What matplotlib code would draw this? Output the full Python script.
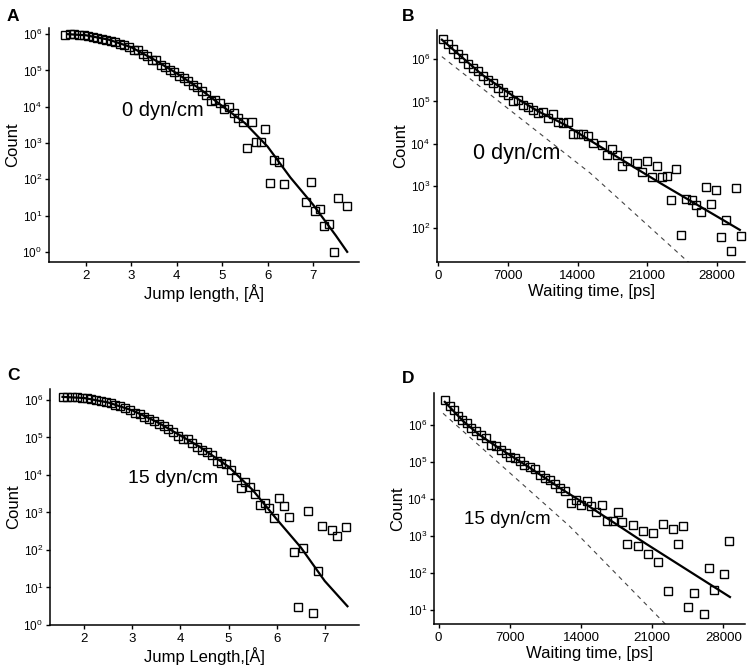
import matplotlib
matplotlib.use("Agg")
import matplotlib.pyplot as plt
import numpy as np
from matplotlib.ticker import NullLocator, FixedLocator

plt.rcParams['font.family'] = ['Liberation Sans', 'DejaVu Sans']
plt.rcParams['mathtext.fontset'] = 'custom'
plt.rcParams['mathtext.rm'] = 'Liberation Sans'

# ---- panel A: jump length, 0 dyn/cm  (counts stored as log10) ----
a_x = [1.55, 1.65, 1.75, 1.85, 1.95, 2.05, 2.15, 2.25, 2.35, 2.45, 2.55, 2.65, 2.75,
       2.85, 2.95, 3.05, 3.15, 3.25, 3.35, 3.45, 3.55, 3.65, 3.75, 3.85, 3.95, 4.05,
       4.15, 4.25, 4.35, 4.45, 4.55, 4.65, 4.75, 4.85, 4.95, 5.05, 5.15, 5.25, 5.35,
       5.45, 5.55, 5.65, 5.75, 5.85, 5.95, 6.05, 6.15, 6.25, 6.35, 6.85, 6.95, 7.05,
       7.15, 7.25, 7.35, 7.45, 7.55, 7.75]
a_log = [5.97, 6.00, 6.00, 5.99, 5.98, 5.95, 5.93, 5.90, 5.88, 5.85, 5.81, 5.78, 5.74,
         5.70, 5.64, 5.56, 5.55, 5.45, 5.40, 5.28, 5.28, 5.14, 5.10, 5.00, 4.95, 4.85,
         4.78, 4.72, 4.60, 4.55, 4.42, 4.32, 4.17, 4.18, 4.11, 3.93, 3.98, 3.82, 3.68,
         3.59, 2.85, 3.59, 3.04, 3.04, 3.38, 1.90, 2.53, 2.48, 1.86, 1.38, 1.93, 1.13,
         1.19, 0.70, 0.78, 0.00, 1.49, 1.26]
a_fit_x = [1.6, 2.0, 2.5, 3.0, 3.5, 4.0, 4.5, 5.0, 5.5, 6.0, 6.5, 7.0, 7.5, 7.75]
a_fit_log = [6.0, 5.97, 5.85, 5.64, 5.30, 4.92, 4.50, 4.02, 3.55, 2.90, 2.05, 1.30, 0.45, 0.0]

# ---- panel B: waiting time, 0 dyn/cm ----
b_x = [500, 1000, 1500, 2000, 2500, 3000, 3500, 4000, 4500, 5000, 5500, 6000, 6500,
       7000, 7500, 8000, 8500, 9000, 9500, 10000, 10500, 11000, 11500, 12000, 12500,
       13000, 13500, 14000, 14500, 15000, 15550, 16450, 17000, 17500, 18000, 18500,
       19000, 20000, 20500, 21000, 21450, 21950, 22450, 22950, 23450, 23950, 24450,
       24950, 25500, 25950, 26450, 26950, 27450, 27950, 28400, 28900, 29400, 29900, 30400]
b_log = [6.48, 6.35, 6.24, 6.12, 6.02, 5.88, 5.79, 5.71, 5.59, 5.51, 5.43, 5.31, 5.23,
         5.16, 5.01, 5.04, 4.92, 4.86, 4.80, 4.72, 4.75, 4.60, 4.70, 4.52, 4.48,
         4.52, 4.24, 4.24, 4.22, 4.17, 4.01, 3.97, 3.73, 3.87, 3.73, 3.47,
         3.58, 3.54, 3.32, 3.58, 3.22, 3.46, 3.22, 3.24, 2.67, 3.40, 1.84,
         2.69, 2.67, 2.55, 2.39, 2.97, 2.57, 2.91, 1.80, 2.20, 1.45, 2.95, 1.82]
b_fit_x = [340, 2000, 4400, 7700, 10000, 12800, 15300, 22300, 30330]
b_fit_log = [6.46, 6.12, 5.63, 5.10, 4.77, 4.44, 4.07, 3.07, 1.96]
b_dash_x = [340, 15290, 25600]
b_dash_log = [6.06, 3.30, 1.10]

# ---- panel C: jump length, 15 dyn/cm ----
c_x = [1.55, 1.65, 1.75, 1.85, 1.95, 2.05, 2.15, 2.25, 2.35, 2.45, 2.55, 2.65, 2.75,
       2.85, 2.95, 3.05, 3.15, 3.25, 3.35, 3.45, 3.55, 3.65, 3.75, 3.85, 3.95, 4.05,
       4.15, 4.25, 4.35, 4.45, 4.55, 4.65, 4.75, 4.85, 4.95, 5.05, 5.15, 5.25, 5.35,
       5.45, 5.55, 5.65, 5.75, 5.85, 5.95, 6.05, 6.15, 6.25, 6.35, 6.45, 6.55, 6.65,
       6.75, 6.85, 6.95, 7.15, 7.25, 7.45]
c_log = [6.08, 6.09, 6.09, 6.09, 6.06, 6.05, 6.03, 6.00, 5.97, 5.95, 5.91, 5.87, 5.83,
         5.78, 5.73, 5.66, 5.62, 5.55, 5.50, 5.44, 5.36, 5.30, 5.22, 5.15, 5.05, 4.97,
         4.96, 4.84, 4.75, 4.67, 4.60, 4.53, 4.36, 4.33, 4.29, 4.13, 3.94, 3.64, 3.82,
         3.69, 3.49, 3.20, 3.24, 3.11, 2.84, 3.38, 3.17, 2.87, 1.95, 0.49, 2.04, 3.04,
         0.31, 1.45, 2.64, 2.52, 2.38, 2.60]
c_fit_x = [1.55, 2.0, 2.5, 3.0, 3.5, 4.0, 4.4, 5.0, 5.5, 6.0, 6.5, 7.0, 7.47]
c_fit_log = [6.08, 6.05, 5.93, 5.72, 5.42, 5.05, 4.75, 4.22, 3.60, 2.82, 2.07, 1.17, 0.50]

# ---- panel D: waiting time, 15 dyn/cm ----
d_x = [590, 1080, 1480, 1900, 2330, 2790, 3220, 3710, 4200, 4630, 5190, 5610, 6100,
       6600, 6990, 7480, 7970, 8400, 8960, 9450, 9940, 10430, 10930, 11420, 11910,
       12400, 13060, 13550, 14040, 14540, 15030, 15520, 16080, 16510, 17100, 17590,
       18080, 18570, 19070, 19560, 20050, 20580, 21040, 21560, 22090, 22580, 23070,
       23560, 24050, 24550, 25070, 26060, 26550, 27040, 28060, 28580]
d_log = [6.68, 6.51, 6.39, 6.24, 6.12, 6.05, 5.91, 5.82, 5.73, 5.64, 5.46, 5.43, 5.32,
         5.23, 5.14, 5.10, 5.01, 4.92, 4.86, 4.80, 4.65, 4.56, 4.51, 4.41, 4.29,
         4.20, 3.88, 3.97, 3.84, 3.93, 3.79, 3.63, 3.82, 3.39, 3.39, 3.64,
         3.36, 2.78, 3.30, 2.71, 3.12, 2.51, 3.07, 2.29, 3.32, 1.50, 3.18,
         2.78, 3.27, 1.06, 1.45, 0.87, 2.13, 1.54, 1.96, 2.86]
d_fit_x = [600, 2400, 4000, 5700, 9000, 12200, 14700, 20400, 28650]
d_fit_log = [6.62, 6.10, 5.73, 5.41, 4.83, 4.24, 3.81, 2.78, 1.34]
d_dash_x = [430, 12900, 22500]
d_dash_log = [6.31, 3.25, 0.55]

W, H = 750, 667
fig = plt.figure(figsize=(W / 100, H / 100), dpi=100)


def make_ax(l, t, r, b):
    return fig.add_axes([l / W, 1 - b / H, (r - l) / W, (b - t) / H])


def style(ax, xlim, ylog, xticks, xlabel):
    ax.set_yscale('log')
    ax.set_xlim(*xlim)
    ax.set_ylim(10 ** ylog[0], 10 ** ylog[1])
    lo, hi = int(np.ceil(ylog[0])), int(np.floor(ylog[1]))
    ax.yaxis.set_major_locator(FixedLocator([10.0 ** k for k in range(lo, hi + 1)]))
    ax.yaxis.set_minor_locator(NullLocator())
    ax.set_xticks(xticks)
    ax.set_xticklabels([str(t) for t in xticks])
    for s in ['top', 'right']:
        ax.spines[s].set_visible(False)
    for s in ['left', 'bottom']:
        ax.spines[s].set_linewidth(1.1)
    ax.tick_params(direction='out', length=3, width=1.0, labelsize=9.5, pad=2.5)
    ax.tick_params(axis='y', labelsize=8.5, pad=2)
    ax.set_xlabel(xlabel, fontsize=12, labelpad=2)
    ax.set_ylabel('Count', fontsize=12, labelpad=2)


def squares(ax, x, lg):
    ax.plot(x, 10.0 ** np.array(lg), 's', ms=6, mfc='none', mec='black', mew=1.0,
            clip_on=False, zorder=2)


def fit(ax, x, lg):
    ax.plot(x, 10.0 ** np.array(lg), '-', color='black', lw=1.6, zorder=3)


def dash(ax, x, lg):
    ax.plot(x, 10.0 ** np.array(lg), color='#444444', lw=0.8, ls=(0, (4, 4)), zorder=1)


axA = make_ax(49, 28, 359, 262)
squares(axA, a_x, a_log)
fit(axA, a_fit_x, a_fit_log)
style(axA, (1.19, 8.01), (-0.28, 6.17), [2, 3, 4, 5, 6, 7], 'Jump length, [Å]')
axA.text(2.79, 10 ** 3.74, '0 dyn/cm', fontsize=14.5, ha='left', va='baseline')

axB = make_ax(437, 30, 745, 262)
squares(axB, b_x, b_log)
fit(axB, b_fit_x, b_fit_log)
dash(axB, b_dash_x, b_dash_log)
style(axB, (-150, 30850), (1.2, 6.69), [0, 7000, 14000, 21000, 28000], 'Waiting time, [ps]')
axB.text(3520, 10 ** 3.63, '0 dyn/cm', fontsize=15.5, ha='left', va='baseline')

axC = make_ax(50, 389, 359, 625)
squares(axC, c_x, c_log)
fit(axC, c_fit_x, c_fit_log)
style(axC, (1.29, 7.71), (0.0, 6.29), [2, 3, 4, 5, 6, 7], 'Jump Length,[Å]')
axC.text(2.91, 10 ** 3.78, '15 dyn/cm', fontsize=14, ha='left', va='baseline')

axD = make_ax(434, 393, 745, 624)
squares(axD, d_x, d_log)
fit(axD, d_fit_x, d_fit_log)
dash(axD, d_dash_x, d_dash_log)
style(axD, (-460, 30130), (0.61, 6.86), [0, 7000, 14000, 21000, 28000], 'Waiting time, [ps]')
axD.text(2490, 10 ** 3.32, '15 dyn/cm', fontsize=13.5, ha='left', va='baseline')

for lab, px, py in [('A', 7, 21), ('B', 402, 21), ('C', 7, 380), ('D', 402, 383)]:
    fig.text(px / W, 1 - py / H, lab, fontsize=12.5, fontweight='bold',
             ha='left', va='baseline')

fig.savefig('out.png', dpi=100)
